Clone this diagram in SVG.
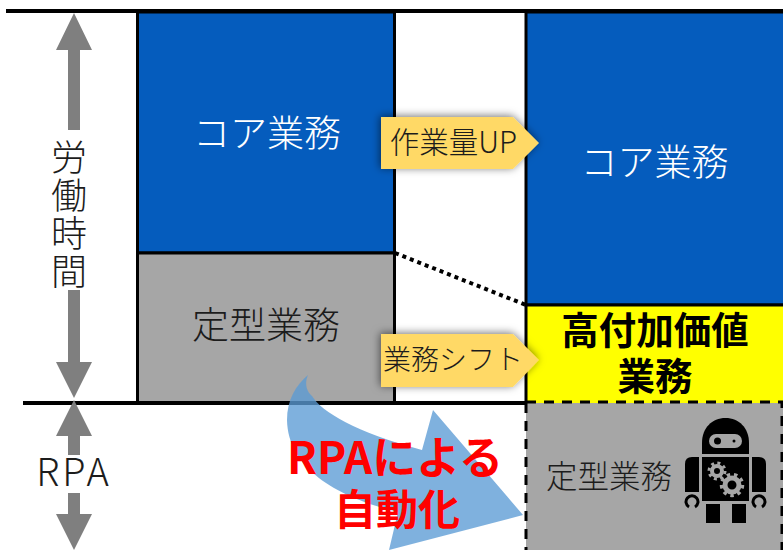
<svg xmlns="http://www.w3.org/2000/svg" width="783" height="550" viewBox="0 0 783 550">
<defs>
<style>
text{font-family:"Noto Sans CJK JP","Noto Sans",sans-serif;text-anchor:middle;fill:#1c1c1c;font-weight:300}
.box{stroke:#000;stroke-width:3}
.blue{fill:#055cbd}.gray{fill:#a6a6a6}
text.w{fill:#fff;font-size:37px}
.d{font-size:37px}
.tag{fill:#ffd966;filter:url(#sh)}
.ga{fill:#7f7f7f}
.rb{fill:#000}
text.red{fill:#f00;font-weight:700}
text.y{fill:#000;font-weight:700;font-size:37.500px}
.dash{fill:none;stroke:#000;stroke-width:3;stroke-dasharray:10 8}
</style>
<filter id="sh" x="-20%" y="-30%" width="140%" height="160%"><feDropShadow dx="-1" dy="-1" stdDeviation="4" flood-color="#000" flood-opacity=".55"/></filter>
</defs>
<rect width="783" height="550" fill="#fff"/>
<g id="node-core-left"><rect class="box blue" x="137.500" y="12" width="257" height="241"/><text class="w" x="267" y="147">コア業務</text></g>
<g id="node-routine-left"><rect class="box gray" x="137.500" y="253" width="257" height="150"/><text class="d" x="266" y="339">定型業務</text></g>
<g id="node-core-right"><rect class="box blue" x="526" y="12" width="260" height="293"/><text class="w" x="654.500" y="176">コア業務</text></g>
<g id="node-value"><path d="M526 305H786V403H526Z" fill="#ff0"/><path d="M526 305H786M526 305V403" fill="none" stroke="#000" stroke-width="3"/><text class="y" x="655" y="344">高付加価値</text><text class="y" x="655" y="390">業務</text></g>
<g id="node-routine-right"><rect class="gray" x="526" y="403" width="260" height="150"/><path class="dash" d="M526 403V550M526 402H782V550"/><text x="609" y="488" font-size="31.500">定型業務</text></g>
<g id="connectors">
<path d="M6 11H783M23 403H526" stroke="#000" stroke-width="4" fill="none"/>
<path d="M395 253L526 305" stroke="#000" stroke-width="4" stroke-dasharray="4 4" fill="none"/>
<path class="ga" d="M74 13L92 50H80V130H68V50H56Z"/>
<path class="ga" d="M68 290H80V362H92L74 398L56 362H68Z"/>
<path class="ga" d="M74 400L92 436H80V455H68V436H56Z"/>
<path class="ga" d="M68 493H80V514H92L74 550L56 514H68Z"/>
</g>
<g id="node-tag-up"><path class="tag" d="M381 117H513L539 143L513 169H381Z"/><text x="453.500" y="153" font-size="29.500">作業量UP</text></g>
<g id="node-tag-shift"><path class="tag" d="M381 334H513L539 360L513 387H381Z"/><text x="453" y="370" font-size="28">業務シフト</text></g>
<g id="node-rpa-arrow"><path d="M308 375C304 384 307 392 312 396C322 412 355 432 422 450L433 410L523 515L389 550L398 512C340 498 288 470 287 420C287 400 296 385 308 375Z" fill="#5b9bd5" fill-opacity=".78"/>
<text class="red" x="395" y="474" font-size="44">RPAによる</text><text class="red" x="397" y="525" font-size="42">自動化</text></g>
<g id="node-axis-label"><text x="69" y="215" font-size="36" letter-spacing="2" style="writing-mode:vertical-rl">労働時間</text></g>
<g id="node-rpa-label"><text x="74" y="486" font-size="38" letter-spacing="3">RPA</text></g>
<g id="node-robot">
<path class="rb" d="M702 454V443C702 428 712 418 725.500 418C739 418 749 428 749 443V454Z"/>
<rect class="gray" x="709" y="434" width="33" height="14" rx="7"/>
<circle class="rb" cx="717.500" cy="441" r="3.500"/><circle class="rb" cx="734" cy="441" r="1.500"/>
<rect class="rb" x="702" y="457" width="47" height="44"/>
<path class="rb" d="M685 492V464Q685 457 692 457H699V492Z"/>
<path class="rb" d="M766 492V464Q766 457 759 457H752V492Z"/>
<path d="M689 507A6 6 0 1 1 695 507M756 507A6 6 0 1 1 762 507" fill="none" stroke="#000" stroke-width="3"/>
<rect class="rb" x="706" y="504" width="14" height="19"/><rect class="rb" x="732" y="504" width="14" height="19"/>
<g fill="none" stroke="#a6a6a6"><circle cx="717" cy="471" r="5" stroke-width="4"/><circle cx="717" cy="471" r="8" stroke-width="3" stroke-dasharray="3 3.300"/><circle cx="732" cy="485" r="7" stroke-width="5"/><circle cx="732" cy="485" r="10.500" stroke-width="3.500" stroke-dasharray="3.500 3.800"/></g>
</g>
</svg>
